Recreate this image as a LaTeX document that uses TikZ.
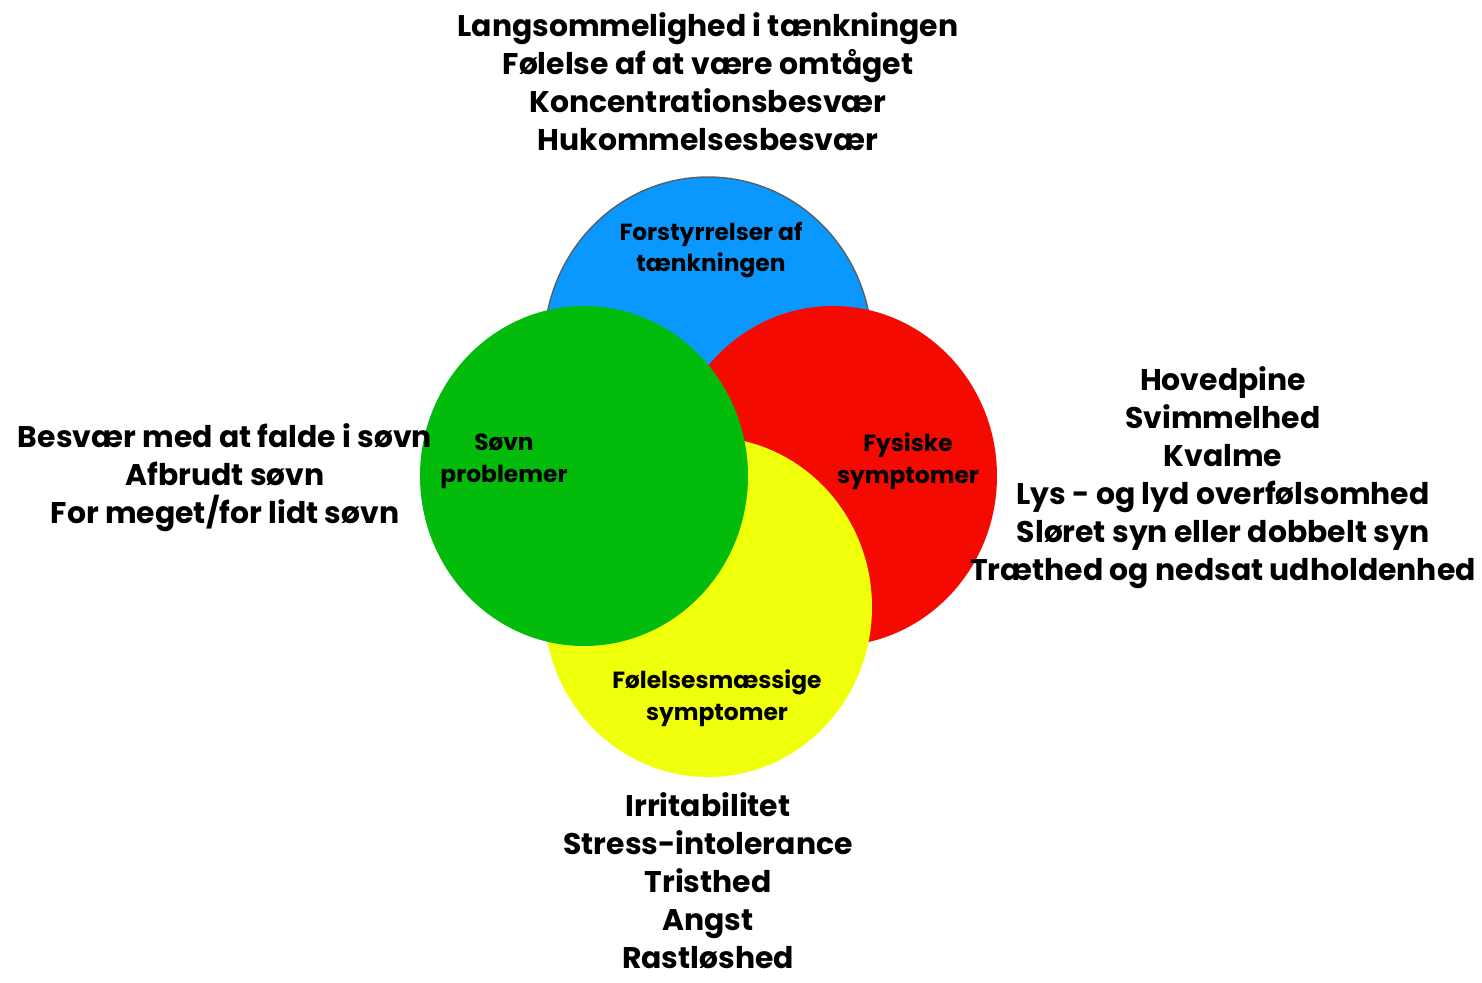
\documentclass[tikz,border=0pt]{standalone}
\usepackage{fontspec}
\setmainfont{Poppins}

\definecolor{thinkblue}{RGB}{10,152,255}
\definecolor{bodyred}{RGB}{244,10,0}
\definecolor{moodyellow}{RGB}{240,255,10}
\definecolor{sleepgreen}{RGB}{2,187,10}
\definecolor{rimgray}{RGB}{85,95,105}

\tikzset{
    outer/.style={font=\bfseries\fontsize{17}{21.6}\selectfont, align=center, inner sep=0pt},
    inner/.style={font=\bfseries\fontsize{13.3}{18.1}\selectfont, align=center}
}

\begin{document}
\begin{tikzpicture}[x=0.02cm, y=-0.02cm]
    \useasboundingbox (0, 0) rectangle (1482, 983);

    % Circles
    \filldraw[fill=thinkblue, draw=rimgray, line width=0.8pt] (708, 347) ellipse [x radius=164, y radius=170];
    \fill[bodyred] (833, 476) ellipse [x radius=164, y radius=170];
    \fill[moodyellow] (708, 607) ellipse [x radius=164, y radius=170];
    \fill[sleepgreen] (584, 476) ellipse [x radius=164, y radius=170];

    % Circle labels
    \node[inner] (think) at (711, 250) {Forstyrrelser af\\tænkningen};
    \node[inner] (sleep) at (504, 461) {Søvn\\problemer};
    \node[inner] (body) at (908, 461) {Fysiske\\symptomer};
    \node[inner] (mood) at (717, 698) {Følelsesmæssige\\symptomer};

    % Symptom lists
    \node[outer] (thinklist) at (708, 82) {Langsommelighed i tænkningen\\Følelse af at være omtåget\\Koncentrationsbesvær\\Hukommelsesbesvær};
    \node[outer] (bodylist) at (1223, 478) {Hovedpine\\Svimmelhed\\Kvalme\\Lys - og lyd overfølsomhed\\Sløret syn eller dobbelt syn\\Træthed og nedsat udholdenhed};
    \node[outer] (sleeplist) at (225, 478) {Besvær med at falde i søvn\\Afbrudt søvn\\For meget/for lidt søvn};
    \node[outer] (moodlist) at (708, 881) {Irritabilitet\\Stress-intolerance\\Tristhed\\Angst\\Rastløshed};
\end{tikzpicture}
\end{document}
